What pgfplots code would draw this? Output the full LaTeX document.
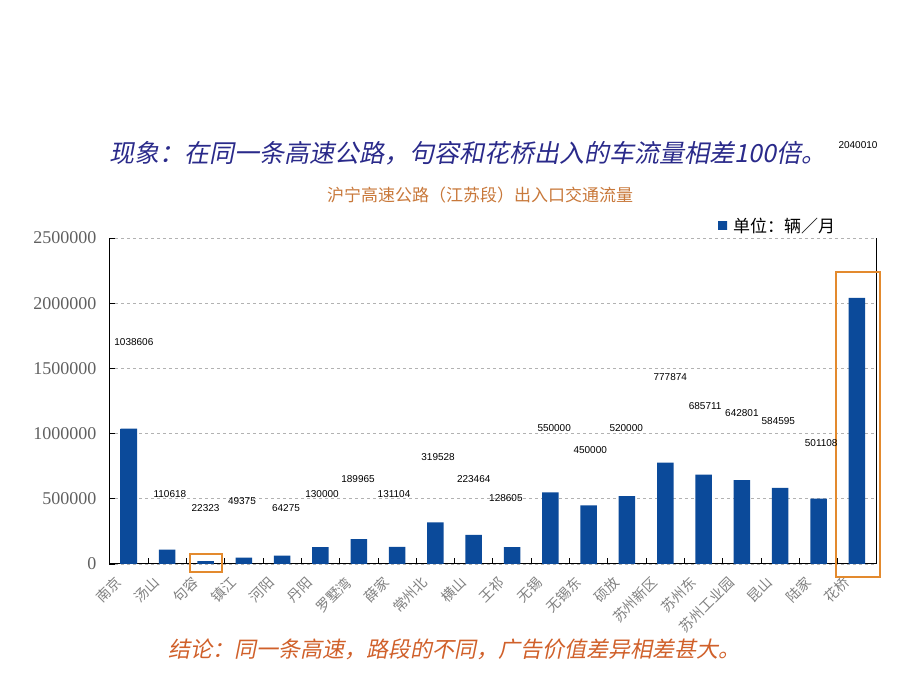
\documentclass[border=0pt]{standalone}
\usepackage{fontspec}
\setmainfont{Liberation Serif}
\newfontfamily\cjk{Noto Sans CJK SC}
\newfontfamily\cjkit[FakeSlant=0.2]{Noto Sans CJK SC}
\newfontfamily\arial{Liberation Sans}
\usepackage{pgfplots}
\pgfplotsset{compat=1.18}
\definecolor{barD}{HTML}{0B4A9A}
\definecolor{barL}{HTML}{2068C8}
\definecolor{navy}{HTML}{2A2A8A}
\definecolor{subt}{HTML}{C8783A}
\definecolor{concl}{HTML}{D0602A}
\definecolor{boxo}{HTML}{E38A2E}
\begin{document}
\begin{tikzpicture}[x=1pt,y=1pt]
\useasboundingbox (0,0) rectangle (920,690);
\begin{axis}[
  at={(109pt,126pt)}, anchor=south west,
  scale only axis, width=767pt, height=326pt,
  xmin=-0.52, xmax=19.5, ymin=0, ymax=2500000,
  clip=false,
  axis x line=bottom, axis y line=box,
  axis line style={-, black, line width=1pt},
  xtick={0,...,19},
  xticklabels={南京,汤山,句容,镇江,河阳,丹阳,罗墅湾,薛家,常州北,横山,王祁,无锡,无锡东,硕放,苏州新区,苏州东,苏州工业园,昆山,陆家,花桥},
  minor xtick={-0.5,0.5,...,19.5},
  x tick label style={xshift=-15pt, yshift=-10pt, font=\cjk\fontsize{14}{14}\selectfont, color=gray, rotate=45, anchor=north east, inner sep=1pt},
  major x tick style={draw=none},
  minor x tick style={black, line width=0.8pt},
  tick align=inside, major tick length=6pt, minor tick length=6pt,
  ytick={0,500000,...,2500000},
  ytick pos=left,
  y tick style={black, line width=0.8pt},
  scaled y ticks=false,
  yticklabel style={/pgf/number format/fixed, /pgf/number format/1000 sep={}, font=\fontsize{18}{18}\selectfont, color=gray!75!black, xshift=-9pt},
  /pgf/number format/assume math mode=true,
  ymajorgrids, grid style={dashed, gray!60, line width=0.8pt},
  legend style={at={(0.79,1.037)}, anchor=west, draw=none, fill=none, font=\cjk\fontsize{17}{17}\selectfont},
  legend cell align=left,
]
\addplot[ybar, bar width=16.5pt, draw=none, left color=barD, middle color=barL, right color=barD,
  legend image code/.code={\fill[barD] (0pt,-4pt) rectangle (9pt,4pt);}]
coordinates {(0,1038606) (1,110618) (2,22323) (3,49375) (4,64275) (5,130000) (6,189965) (7,131104) (8,319528) (9,223464) (10,128605) (11,550000) (12,450000) (13,520000) (14,777874) (15,685711) (16,642801) (17,584595) (18,501108) (19,2040010)};
\addlegendentry{\hspace{4pt}单位：辆／月}
\addplot[draw=none, mark=none, nodes near coords, point meta=explicit symbolic,
  nodes near coords style={font=\arial\fontsize{10}{10}\selectfont, anchor=center, black}]
coordinates {(0.13,1702000)[1038606] (1.07,537000)[110618] (2.0,429000)[22323] (2.95,483000)[49375] (4.1,429000)[64275] (5.04,537000)[130000] (5.98,652000)[189965] (6.92,537000)[131104] (8.07,820000)[319528] (9.0,652000)[223464] (9.84,506000)[128605] (11.1,1043000)[550000] (12.04,874000)[450000] (12.98,1043000)[520000] (14.13,1434000)[777874] (15.04,1212000)[685711] (16.0,1158000)[642801] (16.95,1097000)[584595] (18.07,928000)[501108] (19.03,3213000)[2040010]};
\draw[boxo, line width=2.5pt] (axis cs:1.59,77000) rectangle (axis cs:2.43,-61000);
\draw[boxo, line width=2.5pt] (axis cs:18.45,2240000) rectangle (axis cs:19.6,-100000);
\end{axis}
\node[font=\cjkit\fontsize{25}{25}\selectfont, color=navy] at (468,537) {现象：在同一条高速公路，句容和花桥出入的车流量相差100倍。};
\node[font=\cjk\fontsize{17}{17}\selectfont, color=subt] at (480,495) {沪宁高速公路（江苏段）出入口交通流量};
\node[font=\cjkit\fontsize{22}{22}\selectfont, color=concl] at (454,41) {结论：同一条高速，路段的不同，广告价值差异相差甚大。};
\end{tikzpicture}
\end{document}
